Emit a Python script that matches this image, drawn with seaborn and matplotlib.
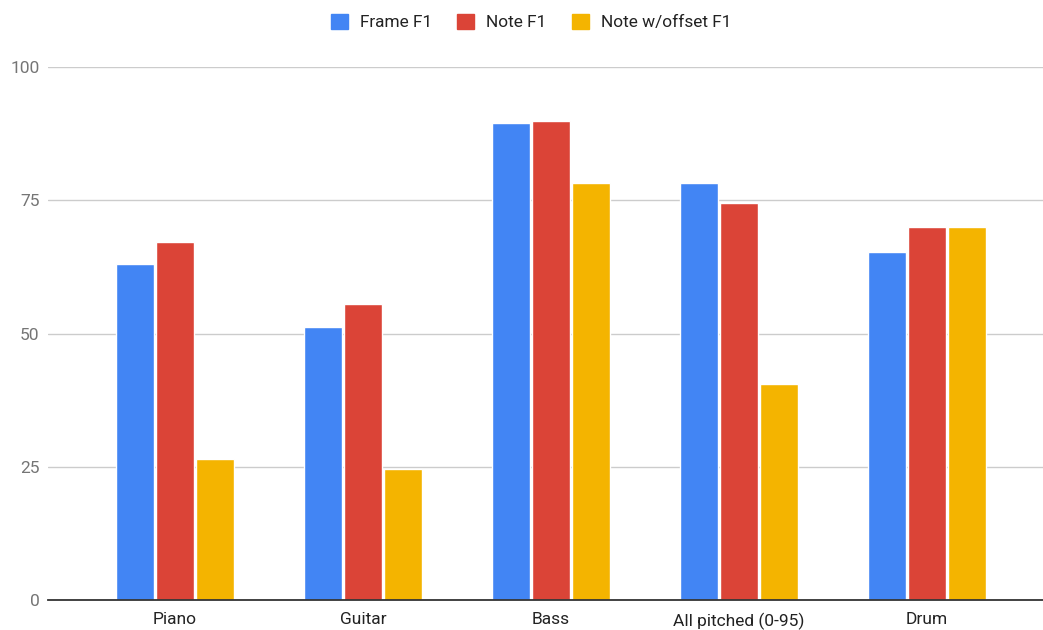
import matplotlib
matplotlib.use("Agg")
import matplotlib.pyplot as plt
from matplotlib.patches import Patch
import seaborn as sns
import pandas as pd

categories = ["Piano", "Guitar", "Bass", "All pitched (0-95)", "Drum"]
series_names = ["Frame F1", "Note F1", "Note w/offset F1"]
frame_f1 = [63.1, 51.3, 89.5, 78.2, 65.3]
note_f1 = [67.2, 55.6, 89.8, 74.4, 69.9]
offset_f1 = [26.4, 24.6, 78.2, 40.5, 69.9]
y_ticks = [0, 25, 50, 75, 100]
colors = ["#4285F4", "#DB4437", "#F4B400"]

rows = []
for name, vals in zip(series_names, [frame_f1, note_f1, offset_f1]):
    for c, v in zip(categories, vals):
        rows.append({"category": c, "series": name, "value": v})
df = pd.DataFrame(rows)

sns.set_theme(style="white")
plt.rcParams["font.family"] = ["Roboto", "DejaVu Sans"]

fig = plt.figure(figsize=(10.43, 6.30), dpi=100)
ax = fig.add_axes([48 / 1043, 30 / 630, 995 / 1043, 533 / 630])

sns.barplot(data=df, x="category", y="value", hue="series", order=categories,
            hue_order=series_names, palette=colors, width=0.638, gap=0.0625,
            saturation=1, errorbar=None, ax=ax, legend=False, zorder=3)

ax.set_xlim(-127 / 188, 868 / 188)
ax.set_ylim(0, 100)
ax.set_yticks(y_ticks)
ax.set_yticklabels([str(t) for t in y_ticks])
ax.set_xlabel("")
ax.set_ylabel("")
ax.grid(axis="y", color="#cccccc", linewidth=1, zorder=0)
ax.grid(axis="x", visible=False)
for s in ["top", "right", "left"]:
    ax.spines[s].set_visible(False)
ax.spines["bottom"].set_color("#333333")
ax.spines["bottom"].set_linewidth(1.3)
ax.spines["bottom"].set_zorder(4)
ax.tick_params(axis="y", length=0, pad=6, labelsize=12.5, labelcolor="#757575")
ax.tick_params(axis="x", length=0, pad=9, labelsize=12.5, labelcolor="#222222")

handles = [Patch(facecolor=c, edgecolor=c) for c in colors]
fig.legend(handles, series_names, loc="center", bbox_to_anchor=(531 / 1043, 1 - 22 / 630),
           ncol=3, frameon=False, fontsize=12.4, handlelength=1.0, handleheight=1.0,
           handletextpad=0.7, columnspacing=1.45, labelcolor="#222222")

fig.savefig("out.png", dpi=100)
